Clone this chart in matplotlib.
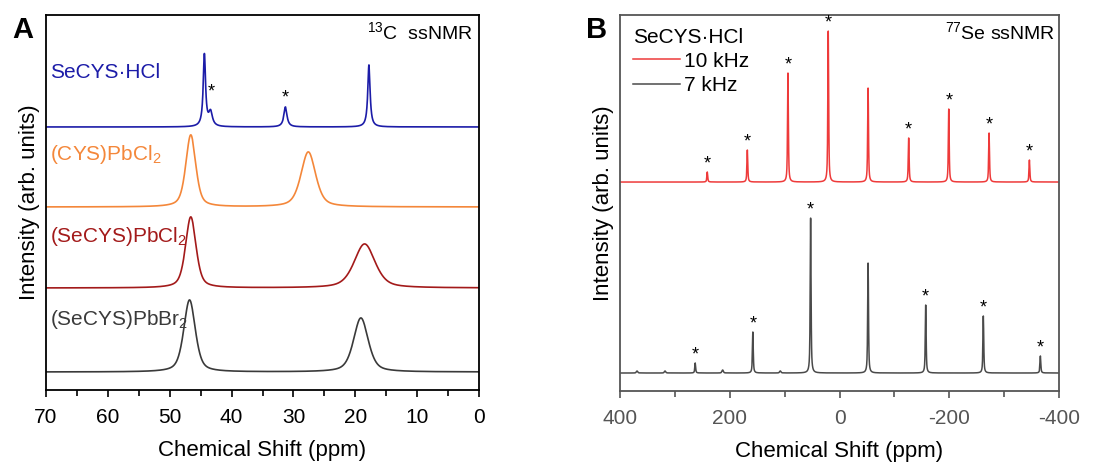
import numpy as np
import matplotlib.pyplot as plt
from matplotlib.ticker import MultipleLocator

plt.rcParams['font.family'] = ['Liberation Sans', 'DejaVu Sans']
plt.rcParams['axes.unicode_minus'] = False
plt.rcParams['mathtext.fontset'] = 'custom'
plt.rcParams['mathtext.rm'] = 'Liberation Sans'
plt.rcParams['mathtext.it'] = 'Liberation Sans'

# ---- 13C spectra: (center ppm, height, fwhm ppm, lorentz fraction) ----
C13_NAMES = ['SeCYS·HCl', '(CYS)PbCl$_2$', '(SeCYS)PbCl$_2$', '(SeCYS)PbBr$_2$']
C13_COLORS = ['#1c1ca8', '#f4873a', '#a31a1a', '#3a3a3a']
C13_OFFSETS = [263, 183, 102, 18]
C13_PEAKS = [
    [(44.4, 72, 0.45, 1.0), (43.4, 14, 0.7, 1.0), (31.3, 20, 0.6, 1.0), (17.8, 62, 0.45, 1.0)],
    [(46.6, 72, 1.9, 0.5), (27.6, 55, 2.8, 0.5)],
    [(46.6, 71, 2.0, 0.5), (18.5, 44, 4.0, 0.5)],
    [(46.8, 72, 2.2, 0.5), (19.1, 54, 2.8, 0.5)],
]
C13_STARS = [(43.3, 298), (31.3, 292)]
C13_LABEL_Y = [317, 235, 153, 70]

# ---- 77Se spectra at two spinning rates ----
SE_NAMES = ['10 kHz', '7 kHz']
SE_COLORS = ['#ee3a3a', '#4a4a4a']
SE_OFFSETS = [209, 18]
SE_POS = [
    [241, 168, 94, 20.6, -52, -126, -199, -272.5, -346],
    [263, 158, 52.7, -52, -157, -262, -366],
]
SE_HEIGHTS = [
    [10, 32, 109, 151, 94, 44, 73, 49, 22],
    [10, 41, 155, 110, 68, 57, 17],
]
SE_STARRED = [
    [True, True, True, True, False, True, True, True, True],
    [True, True, True, False, True, True, True],
]
# small spinning sidebands of a minor site in the 7 kHz trace
SE_MINOR_POS = [369, 318, 213, 108]
SE_MINOR_H = [2, 2, 3, 2]


def peak(x, c, h, w, eta):
    g = np.exp(-4 * np.log(2) * ((x - c) / w) ** 2)
    lo = 1 / (1 + 4 * ((x - c) / w) ** 2)
    return h * (eta * lo + (1 - eta) * g)


fig = plt.figure(figsize=(11.12, 4.63), dpi=100)
axA = fig.add_axes([0.0414, 0.1577, 0.3894, 0.810])
axB = fig.add_axes([0.5576, 0.1555, 0.3948, 0.812])

# panel A
x = np.linspace(0, 70, 4000)
for name, col, off, peaks, ly in zip(C13_NAMES, C13_COLORS, C13_OFFSETS, C13_PEAKS, C13_LABEL_Y):
    y = np.full_like(x, off, dtype=float)
    for c, h, w, eta in peaks:
        y += peak(x, c, h, w, eta)
    axA.plot(x, y, color=col, lw=1.2)
    axA.text(69.3, ly, name, color=col, fontsize=15, va='center', ha='left')
for sx, sy in C13_STARS:
    axA.text(sx, sy, '*', fontsize=13, ha='center', va='center')

axA.set_xlim(70, 0)
axA.set_ylim(0, 375)
axA.set_yticks([])
axA.xaxis.set_major_locator(MultipleLocator(10))
axA.xaxis.set_minor_locator(MultipleLocator(5))
axA.tick_params(axis='x', which='major', direction='out', length=5, width=1.2, labelsize=15, pad=8)
axA.tick_params(axis='x', which='minor', direction='out', length=4, width=1.2)
for s in axA.spines.values():
    s.set_linewidth(1.3)
axA.set_xlabel('Chemical Shift (ppm)', fontsize=16, labelpad=9)
axA.set_ylabel('Intensity (arb. units)', fontsize=16, labelpad=4)
axA.text(0.985, 0.955, '$^{13}$C  ssNMR', transform=axA.transAxes, fontsize=14,
         ha='right', va='center')
fig.text(0.011, 0.935, 'A', fontsize=21, fontweight='bold', va='center')

# panel B
gray = '#555555'
xs = np.linspace(-400, 400, 16000)
for i in range(2):
    y = np.full_like(xs, SE_OFFSETS[i], dtype=float)
    for c, h in zip(SE_POS[i], SE_HEIGHTS[i]):
        y += peak(xs, c, h, 1.8, 0.7)
    if i == 1:
        for c, h in zip(SE_MINOR_POS, SE_MINOR_H):
            y += peak(xs, c, h, 3.0, 0.5)
    axB.plot(xs, y, color=SE_COLORS[i], lw=1.1, label=SE_NAMES[i])
    for c, h, st in zip(SE_POS[i], SE_HEIGHTS[i], SE_STARRED[i]):
        if st:
            axB.text(c, SE_OFFSETS[i] + h + 8, '*', fontsize=13, ha='center', va='center')

axB.set_xlim(400, -400)
axB.set_ylim(0, 376)
axB.set_yticks([])
axB.xaxis.set_major_locator(MultipleLocator(200))
axB.xaxis.set_minor_locator(MultipleLocator(100))
axB.tick_params(axis='x', which='major', direction='out', length=5, width=1.2, labelsize=15,
                pad=8, color=gray, labelcolor=gray)
axB.tick_params(axis='x', which='minor', direction='out', length=4, width=1.2, color=gray)
for s in axB.spines.values():
    s.set_linewidth(1.3)
    s.set_color(gray)
axB.set_xlabel('Chemical Shift (ppm)', fontsize=16, labelpad=9)
axB.set_ylabel('Intensity (arb. units)', fontsize=16, labelpad=4)
axB.text(0.99, 0.955, '$^{77}$Se ssNMR', transform=axB.transAxes, fontsize=14,
         ha='right', va='center')
leg = axB.legend(title='SeCYS·HCl', loc='upper left', frameon=False, fontsize=15,
                 title_fontsize=15, handlelength=2.3, handletextpad=0.15,
                 borderaxespad=0.45, labelspacing=0.25, borderpad=0.15)
leg._legend_box.align = 'left'
fig.text(0.527, 0.935, 'B', fontsize=21, fontweight='bold', va='center')

fig.savefig('out.png', dpi=100)
